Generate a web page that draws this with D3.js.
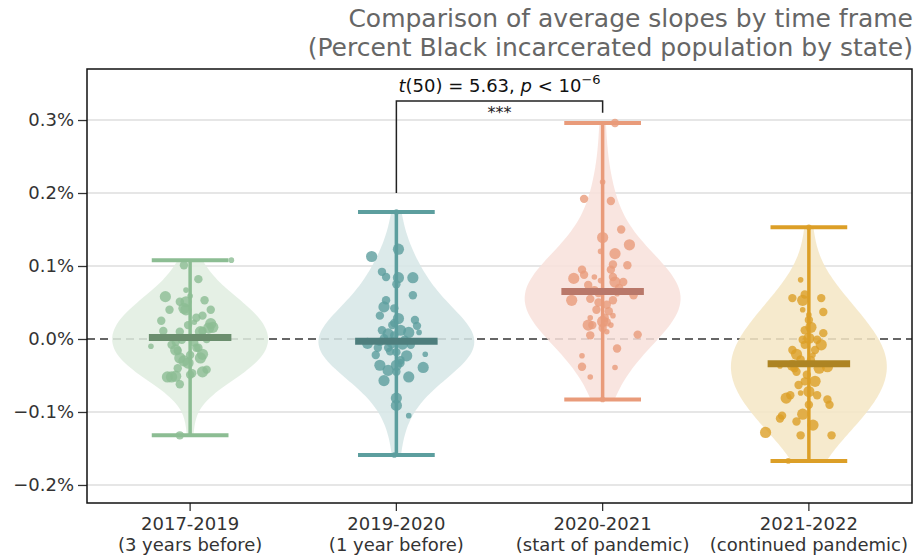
<!DOCTYPE html>
<html>
<head>
<meta charset="utf-8">
<style>
body { margin: 0; background: #fff; }
text { font-family: "DejaVu Sans", sans-serif; }
</style>
</head>
<body>
<script src="https://cdn.jsdelivr.net/npm/d3@7"></script>
<script>

// time frames (x categories)
var periods = ["2017-2019", "2019-2020", "2020-2021", "2021-2022"];
var periodNotes = ["(3 years before)", "(1 year before)", "(start of pandemic)", "(continued pandemic)"];

// each state: [slope in %, horizontal jitter (category units), marker size class]
var slopes2017 = [
  [0.101,-0.03,2],[0.108,0.20,1],[0.082,0.04,2],[0.058,-0.12,3],[0.051,-0.05,2],[0.051,-0.02,3],
  [0.059,0.00,1],[0.040,-0.10,2],[0.042,-0.03,3],[0.040,-0.02,3],[0.040,0.10,2],[0.025,-0.14,2],
  [0.023,0.02,1],[0.032,0.06,2],[0.021,0.10,3],[0.015,0.09,3],[0.016,0.11,3],[0.011,0.06,2],
  [0.010,0.05,3],[0.011,-0.13,2],[0.010,-0.05,2],[-0.010,-0.19,1],[-0.015,-0.07,3],[-0.016,-0.06,2],
  [-0.012,0.03,2],[-0.012,0.04,2],[-0.021,0.06,3],[-0.026,0.05,3],[-0.026,-0.05,3],[-0.030,-0.03,3],
  [-0.033,-0.01,3],[-0.022,0.00,2],[-0.052,-0.11,3],[-0.051,-0.07,3],[-0.052,-0.09,3],[-0.062,-0.05,2],
  [-0.049,0.00,2],[-0.047,0.01,2],[-0.045,0.06,3],[-0.042,0.08,2],[-0.132,-0.05,2],[-0.001,-0.04,2],
  [-0.005,0.02,2],[-0.004,-0.07,2],[0.000,0.08,2],[0.019,-0.01,2],[-0.008,-0.09,2],[0.029,0.03,2],
  [0.067,-0.02,1],[-0.040,-0.06,2],[0.053,0.07,2]
];
var slopes2019 = [
  [0.123,0.01,3],[0.113,-0.12,3],[0.092,-0.07,2],[0.085,-0.05,2],[0.084,0.01,3],[0.084,0.08,3],
  [0.075,0.00,2],[0.060,0.08,2],[0.044,-0.06,3],[0.042,-0.01,2],[0.032,-0.08,2],[0.028,0.01,3],
  [0.022,-0.01,2],[0.018,0.10,2],[0.012,0.02,3],[0.007,-0.04,3],[0.009,0.06,3],[0.009,0.11,1],
  [-0.006,-0.14,3],[-0.004,-0.08,2],[-0.005,-0.02,3],[-0.007,0.03,3],[-0.022,-0.10,2],[-0.017,-0.03,2],
  [-0.023,0.05,3],[-0.021,0.14,1],[-0.036,-0.08,3],[-0.043,-0.04,3],[-0.036,0.00,3],[-0.033,0.02,2],
  [-0.039,0.13,3],[-0.057,-0.06,3],[-0.052,0.06,3],[-0.081,0.00,3],[-0.091,0.00,3],[-0.105,0.06,1],
  [-0.159,-0.01,1],[0.174,0.00,1],[0.001,-0.06,2],[0.005,-0.01,2],[-0.001,0.04,2],[-0.012,-0.04,2],
  [-0.018,0.00,2],[0.012,-0.07,2],[-0.008,0.07,2],[0.019,-0.02,2],[-0.029,0.02,2],[-0.012,-0.09,2],
  [0.026,0.09,2],[0.053,-0.05,2],[-0.045,0.00,2]
];
var slopes2020 = [
  [0.296,0.06,2],[0.215,0.00,1],[0.192,-0.09,2],[0.189,0.04,2],[0.150,0.09,2],[0.139,0.00,3],
  [0.129,0.13,3],[0.120,-0.01,1],[0.117,0.06,3],[0.102,0.05,2],[0.101,0.12,2],[0.095,-0.10,2],
  [0.088,-0.09,2],[0.083,-0.14,3],[0.080,-0.01,1],[0.085,0.05,2],[0.078,0.06,3],[0.078,0.10,2],
  [0.053,-0.15,3],[0.055,-0.06,2],[0.063,-0.02,2],[0.053,0.05,2],[0.060,0.15,2],[0.038,0.03,2],
  [0.032,0.05,1],[0.029,-0.06,1],[0.019,-0.07,3],[0.019,-0.05,2],[0.024,0.00,3],[0.023,0.02,2],
  [0.019,0.04,1],[0.015,0.00,2],[0.005,-0.06,2],[0.006,0.17,2],[-0.013,0.07,2],[-0.023,-0.10,1],
  [-0.038,-0.10,2],[-0.039,0.06,1],[-0.052,-0.06,1],[-0.083,0.00,1],[0.067,-0.04,2],[0.047,0.02,2],
  [0.070,0.08,2],[0.040,-0.03,2],[0.095,0.04,2],[0.074,-0.07,2],[0.029,0.01,2],[0.062,0.07,1],
  [0.050,-0.02,2],[0.010,0.02,1],[0.085,-0.04,1]
];
var slopes2021 = [
  [0.081,-0.04,1],[0.061,-0.02,2],[0.056,-0.08,2],[0.053,-0.03,3],[0.056,0.06,2],[0.040,-0.03,1],
  [0.033,0.00,1],[0.016,0.01,3],[0.012,-0.02,2],[0.008,0.07,2],[0.001,0.00,3],[-0.001,0.04,2],
  [-0.008,0.06,3],[-0.021,-0.06,3],[-0.022,0.02,1],[-0.028,-0.04,2],[-0.037,-0.14,1],[-0.036,-0.08,3],
  [-0.040,-0.07,2],[-0.040,0.05,3],[-0.038,0.09,3],[-0.049,-0.01,2],[-0.058,0.03,3],[-0.058,-0.02,2],
  [-0.072,0.00,3],[-0.074,-0.04,1],[-0.081,-0.11,3],[-0.077,-0.09,2],[-0.083,0.09,2],[-0.090,0.10,2],
  [-0.103,-0.03,3],[-0.105,-0.13,2],[-0.109,-0.14,2],[-0.113,-0.06,2],[-0.118,0.02,3],[-0.128,-0.21,3],
  [-0.132,-0.04,2],[-0.132,0.11,2],[-0.167,-0.10,1],[0.153,0.00,1],[-0.008,-0.02,2],[-0.029,0.01,2],
  [-0.045,-0.06,2],[-0.015,0.03,2],[0.026,0.00,2],[-0.063,-0.05,2],[-0.077,0.04,2],[-0.001,-0.03,2],
  [-0.090,0.00,2],[0.037,0.07,2],[-0.015,-0.08,2]
];
var groupMeans = [0.002, -0.003, 0.065, -0.034];

var yTicks = [-0.2, -0.1, 0.0, 0.1, 0.2, 0.3];

var colors = ["#8cbd93", "#5c9e9e", "#e99b7a", "#dc9f27"];
var fills = ["#e1ede1", "#d6e6e6", "#f8e1da", "#f5e6c4"];
var meanColors = ["#6b8e6e", "#4e7e7d", "#b9786a", "#ad8423"];

var width = 914, height = 556;
var margin = {top: 69, right: 2, bottom: 53, left: 87};

var svg = d3.select("body").append("svg")
    .attr("width", width)
    .attr("height", height);

var x = d3.scaleBand()
    .domain(d3.range(periods.length))
    .range([margin.left, width - margin.right])
    .padding(0);

var y = d3.scaleLinear()
    .domain([-0.2247, 0.3699])
    .range([height - margin.bottom, margin.top]);

var bw = x.bandwidth();
var cx = function(i) { return x(i) + bw / 2; };

// grid
svg.append("g")
  .selectAll("line")
  .data(yTicks.filter(function(d) { return d !== 0; }))
  .enter().append("line")
    .attr("x1", margin.left).attr("x2", width - margin.right)
    .attr("y1", function(d) { return y(d); })
    .attr("y2", function(d) { return y(d); })
    .style("stroke", "#e6e6e6")
    .style("stroke-width", 2);

svg.append("line")
    .attr("x1", margin.left).attr("x2", width - margin.right)
    .attr("y1", y(0)).attr("y2", y(0))
    .style("stroke", "#666")
    .style("stroke-width", 2)
    .style("stroke-dasharray", "8,5");

var groups = [slopes2017, slopes2019, slopes2020, slopes2021];

// gaussian kde, scott's rule widened a bit
function kde(vals) {
  var n = vals.length;
  var sd = d3.deviation(vals);
  var h = 1.45 * sd * Math.pow(n, -0.2);
  var lo = d3.min(vals), hi = d3.max(vals);
  var pts = d3.range(100).map(function(i) { return lo + (hi - lo) * i / 99; });
  return pts.map(function(v) {
    var s = d3.sum(vals, function(u) {
      var z = (v - u) / h;
      return Math.exp(-0.5 * z * z);
    });
    return [v, s / (n * h * Math.sqrt(2 * Math.PI))];
  });
}

groups.forEach(function(rows, i) {
  var vals = rows.map(function(r) { return r[0]; });
  var dens = kde(vals);
  var dmax = d3.max(dens, function(d) { return d[1]; });
  var wScale = d3.scaleLinear().domain([0, dmax]).range([0, bw * 0.378]);
  var area = d3.area()
      .y(function(d) { return y(d[0]); })
      .x0(function(d) { return cx(i) - wScale(d[1]); })
      .x1(function(d) { return cx(i) + wScale(d[1]); })
      .curve(d3.curveLinear);
  svg.append("path")
      .datum(dens)
      .attr("d", area)
      .style("fill", fills[i])
      .style("fill-opacity", 0.85);
});

var r = d3.scaleOrdinal().domain([1, 2, 3]).range([2.8, 4.2, 5.6]);

groups.forEach(function(rows, i) {
  var g = svg.append("g");
  g.selectAll("circle")
    .data(rows)
    .enter().append("circle")
      .attr("cx", function(d) { return cx(i) + d[1] * bw; })
      .attr("cy", function(d) { return y(d[0]); })
      .attr("r", function(d) { return r(d[2]); })
      .style("fill", colors[i])
      .style("fill-opacity", 0.8);

  var lo = d3.min(rows, function(d) { return d[0]; });
  var hi = d3.max(rows, function(d) { return d[0]; });
  g.append("line")
      .attr("x1", cx(i)).attr("x2", cx(i))
      .attr("y1", y(lo)).attr("y2", y(hi))
      .style("stroke", colors[i]).style("stroke-width", 3.5);
  [lo, hi].forEach(function(v) {
    g.append("line")
        .attr("x1", cx(i) - bw * 0.186).attr("x2", cx(i) + bw * 0.186)
        .attr("y1", y(v)).attr("y2", y(v))
        .style("stroke", colors[i]).style("stroke-width", 4);
  });
  g.append("line")
      .attr("x1", cx(i) - bw * 0.2).attr("x2", cx(i) + bw * 0.2)
      .attr("y1", y(groupMeans[i])).attr("y2", y(groupMeans[i]))
      .style("stroke", meanColors[i]).style("stroke-width", 7);
});

// axes
var yAxis = d3.axisLeft(y)
    .tickValues(yTicks)
    .tickSize(9)
    .tickPadding(4)
    .tickFormat(function(d) { return d3.format(".1f")(d).replace("-", "\u2212") + "%"; });

var ya = svg.append("g")
    .attr("transform", "translate(" + margin.left + ",0)")
    .call(yAxis);
ya.select(".domain").remove();
ya.selectAll("line").style("stroke", "#333").style("stroke-width", 1.3);
ya.selectAll("text").style("font-size", "18px").style("fill", "#333")
    .style("font-family", "DejaVu Sans, sans-serif");

var xAxis = d3.axisBottom(x).tickSize(8).tickFormat("");
var xa = svg.append("g")
    .attr("transform", "translate(0," + (height - margin.bottom) + ")")
    .call(xAxis);
xa.select(".domain").remove();
xa.selectAll("line").style("stroke", "#333").style("stroke-width", 1.3);

var xl = svg.append("g").selectAll("text")
    .data(periods)
    .enter().append("text")
    .attr("x", function(d, i) { return cx(i); })
    .attr("y", 530)
    .attr("text-anchor", "middle")
    .style("font-size", "18px")
    .style("fill", "#333");
xl.append("tspan").text(function(d) { return d; });
xl.append("tspan")
    .attr("x", function(d, i) { return cx(i); })
    .attr("dy", 21)
    .text(function(d, i) { return periodNotes[i]; });

// frame
svg.append("rect")
    .attr("x", margin.left).attr("y", margin.top)
    .attr("width", width - margin.right - margin.left)
    .attr("height", height - margin.bottom - margin.top)
    .style("fill", "none")
    .style("stroke", "#111")
    .style("stroke-width", 1.5);

// significance bracket
var bx1 = cx(1), bx2 = cx(2), bTop = y(0.326);
svg.append("path")
    .attr("d", "M" + bx1 + "," + y(0.2) + "V" + bTop + "H" + bx2 + "V" + y(0.31))
    .style("fill", "none")
    .style("stroke", "#222")
    .style("stroke-width", 1.5);

svg.append("text")
    .attr("x", (bx1 + bx2) / 2)
    .attr("y", bTop + 17)
    .attr("text-anchor", "middle")
    .style("font-size", "16px")
    .style("fill", "#222")
    .text("***");

var stat = svg.append("text")
    .attr("x", (bx1 + bx2) / 2)
    .attr("y", bTop - 9)
    .attr("text-anchor", "middle")
    .style("font-size", "18px")
    .style("fill", "#111");
stat.append("tspan").style("font-style", "italic").text("t");
stat.append("tspan").text("(50) = 5.63, ");
stat.append("tspan").style("font-style", "italic").text("p");
stat.append("tspan").text(" < 10");
stat.append("tspan").attr("dy", -8).style("font-size", "13px").text("\u22126");

// title
var title = svg.append("text")
    .attr("x", width - 1)
    .attr("text-anchor", "end")
    .style("font-size", "25px")
    .style("fill", "#666");
title.append("tspan").attr("x", width - 1).attr("y", 27).text("Comparison of average slopes by time frame");
title.append("tspan").attr("x", width - 1).attr("y", 56).text("(Percent Black incarcerated population by state)");

</script>
</body>
</html>
